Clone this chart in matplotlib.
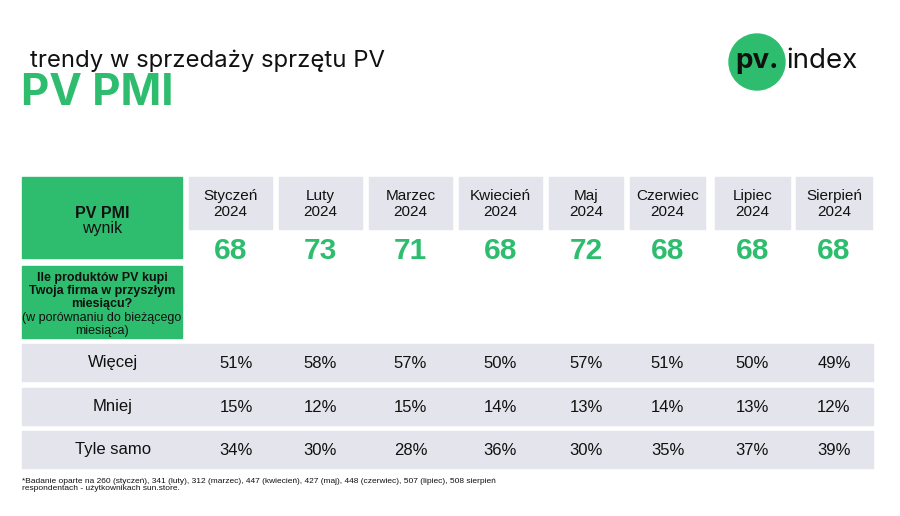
import matplotlib
matplotlib.use("Agg")
import matplotlib.pyplot as plt
from matplotlib.patches import Rectangle, Circle

# ---------------- data ----------------
months = ["Styczeń", "Luty", "Marzec", "Kwiecień", "Maj", "Czerwiec", "Lipiec", "Sierpień"]
years = ["2024"] * 8
pmi = [68, 73, 71, 68, 72, 68, 68, 68]
row_labels = ["Więcej", "Mniej", "Tyle samo"]
wiecej = [51, 58, 57, 50, 57, 51, 50, 49]
mniej = [15, 12, 15, 14, 13, 14, 13, 12]
tyle_samo = [34, 30, 28, 36, 30, 35, 37, 39]
title_small = "trendy w sprzedaży sprzętu PV"
title_big = "PV PMI"
footnote = ("*Badanie oparte na 260 (styczeń), 341 (luty), 312 (marzec), 447 (kwiecień), 427 (maj), "
            "448 (czerwiec), 507 (lipiec), 508 sierpień\nrespondentach - użytkownikach sun.store.")

# ---------------- layout / style ----------------
W, H = 900, 516
GREEN = "#2EBD6E"
GRAY = "#E4E4EC"
col_left = [189, 279, 369, 459, 549, 630, 715, 796]
col_right = [272, 362, 452, 542, 623, 705, 790, 872]
FONT = ["Liberation Sans", "DejaVu Sans"]
TFONT = ["Inter", "Liberation Sans", "DejaVu Sans"]

fig = plt.figure(figsize=(W / 100, H / 100), dpi=100)
ax = fig.add_axes([0, 0, 1, 1])
ax.set_xlim(0, W)
ax.set_ylim(H, 0)
ax.axis("off")

# titles
ax.text(30, 67, title_small, fontsize=17.2, family=TFONT, color="#111111", va="baseline", ha="left")
ax.text(21, 105, title_big, fontsize=31.5, family=TFONT, weight="bold", color=GREEN, va="baseline", ha="left")

# logo
ax.add_patch(Circle((757, 62), 28, color=GREEN, zorder=1))
ax.text(757, 61, "pv.", fontsize=20, family=TFONT, weight="bold", color="#111111",
        ha="center", va="center", zorder=2)
ax.text(786, 61, "index", fontsize=20, family=TFONT, color="#111111", ha="left", va="center", zorder=2)

# left green boxes
ax.add_patch(Rectangle((22, 177), 160, 81, color=GREEN))
ax.text(102, 213, "PV PMI", fontsize=11.5, family=FONT, weight="bold", color="#111111", ha="center", va="center")
ax.text(102, 229, "wynik", fontsize=11.5, family=FONT, color="#111111", ha="center", va="center")
ax.add_patch(Rectangle((22, 266), 160, 72, color=GREEN))
q_lines = [("Ile produktów PV kupi", "bold"), ("Twoja firma w przyszłym", "bold"),
           ("miesiącu?", "bold"), ("(w porównaniu do bieżącego", "normal"), ("miesiąca)", "normal")]
for i, (t, w) in enumerate(q_lines):
    ax.text(102, 278 + i * 13.2, t, fontsize=9, family=FONT, weight=w, color="#111111",
            ha="center", va="center")

# header cells and PMI values
for i, (m, y) in enumerate(zip(months, years)):
    x0, x1 = col_left[i], col_right[i]
    cx = (x0 + x1) / 2
    ax.add_patch(Rectangle((x0, 177), x1 - x0, 52, color=GRAY))
    ax.text(cx, 204, f"{m}\n{y}", fontsize=11, family=FONT, color="#111111",
            ha="center", va="center", linespacing=1.2)
    ax.text(cx, 251, str(pmi[i]), fontsize=21.5, family=FONT, weight="bold", color=GREEN,
            ha="center", va="center")

# percentage rows
rows = [wiecej, mniej, tyle_samo]
row_top = [344, 388, 431]
for r, (lab, vals) in enumerate(zip(row_labels, rows)):
    y0 = row_top[r]
    ax.add_patch(Rectangle((22, y0), 851, 37, color=GRAY))
    cy = y0 + 18.5
    ax.text(113, cy, lab, fontsize=12, family=FONT, color="#111111", ha="center", va="center")
    for i, v in enumerate(vals):
        cx = (col_left[i] + col_right[i]) / 2 + 6 if i == 0 else (col_left[i] + col_right[i]) / 2
        ax.text(cx, cy + 1, f"{v}%", fontsize=12, family=FONT, color="#111111", ha="center", va="center")

# footnote
ax.text(22, 478, footnote, fontsize=6.0, family=FONT, color="#111111", ha="left", va="top",
        linespacing=1.0)

fig.savefig("out.png", dpi=100)
